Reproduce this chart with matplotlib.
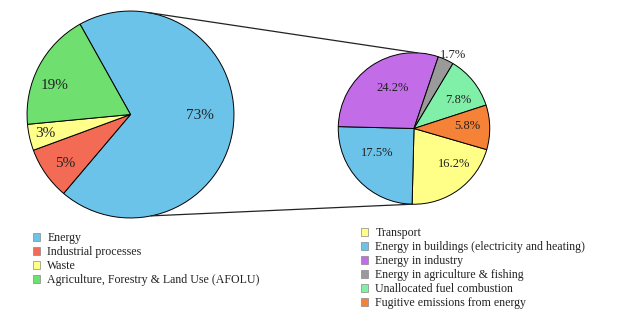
import numpy as np
import matplotlib.pyplot as plt
from matplotlib.patches import ConnectionPatch, Patch

plt.rcParams['font.family'] = ['Liberation Serif', 'DejaVu Serif']

# main pie: greenhouse gas emissions by sector
sectors = ["Energy", "Industrial processes", "Waste",
           "Agriculture, Forestry & Land Use (AFOLU)"]
sector_pct = ["73%", "5%", "3%", "19%"]
sector_sizes = [69.3, 8.2, 4.1, 18.4]   # slice sizes as drawn in the original
sector_colors = ["#6cc3ea", "#f36b55", "#ffff8a", "#6fe070"]

# breakdown of energy
energy_parts = ["Transport", "Energy in buildings (electricity and heating)",
                "Energy in industry", "Energy in agriculture & fishing",
                "Unallocated fuel combustion", "Fugitive emissions from energy"]
energy_pct = ["16.2%", "17.5%", "24.2%", "1.7%", "7.8%", "5.8%"]
energy_sizes = [20.9, 25.0, 29.8, 3.4, 11.4, 9.5]
energy_colors = ["#ffff88", "#6cc3ea", "#c36ce8", "#9a9a9a", "#80f0a8", "#f58236"]

W, H = 620, 327
fig = plt.figure(figsize=(W / 100, H / 100), dpi=100)
ax1 = fig.add_axes([26 / W, (H - 219) / H, 209 / W, 209 / H])
ax2 = fig.add_axes([337 / W, (H - 205) / H, 154 / W, 153 / H])

edge = dict(edgecolor='black', linewidth=0.7)
w1, _ = ax1.pie(sector_sizes, colors=sector_colors, startangle=119.2,
                counterclock=False, wedgeprops=edge)
w2, _ = ax2.pie(energy_sizes, colors=energy_colors, startangle=-16.2,
                counterclock=False, wedgeprops=edge)


def put_labels(ax, wedges, texts, dist, shift, size):
    for w, t, d, s in zip(wedges, texts, dist, shift):
        a = np.deg2rad((w.theta1 + w.theta2) / 2 + s)
        ax.text(d * np.cos(a), d * np.sin(a), t, ha='center', va='center',
                fontsize=size, color='#222222')


put_labels(ax1, w1, sector_pct, [0.67, 0.79, 0.84, 0.78], [5, 2, 0, 7], 11)
put_labels(ax2, w2, energy_pct, [0.71, 0.59, 0.61, 1.1, 0.69, 0.70],
           [12, -10, -7, -3, -6, 2], 9)

for ax in (ax1, ax2):
    ax.set_xlim(-1.01, 1.01)
    ax.set_ylim(-1.01, 1.01)

# lines joining the energy slice to its breakdown
for a1, a2 in [(80.4, 87.7), (-78.5, -91.5)]:
    p1 = (np.cos(np.deg2rad(a1)), np.sin(np.deg2rad(a1)))
    p2 = (np.cos(np.deg2rad(a2)), np.sin(np.deg2rad(a2)))
    con = ConnectionPatch(xyA=p2, coordsA=ax2.transData, xyB=p1,
                          coordsB=ax1.transData, color='#222222', linewidth=0.9)
    fig.add_artist(con)

leg_kw = dict(loc='upper left', frameon=False, fontsize=8.6, handlelength=0.6,
              handleheight=0.6, handletextpad=0.6, labelspacing=0.17,
              borderpad=0, borderaxespad=0, labelcolor='#222222')
h1 = [Patch(facecolor=c, edgecolor='#888888', linewidth=0.5) for c in sector_colors]
h2 = [Patch(facecolor=c, edgecolor='#888888', linewidth=0.5) for c in energy_colors]
fig.legend(h1, sectors, bbox_to_anchor=(33 / W, 1 - 232 / H), **leg_kw)
fig.legend(h2, energy_parts, bbox_to_anchor=(361 / W, 1 - 227 / H), **leg_kw)

fig.savefig('out.png', dpi=100)
